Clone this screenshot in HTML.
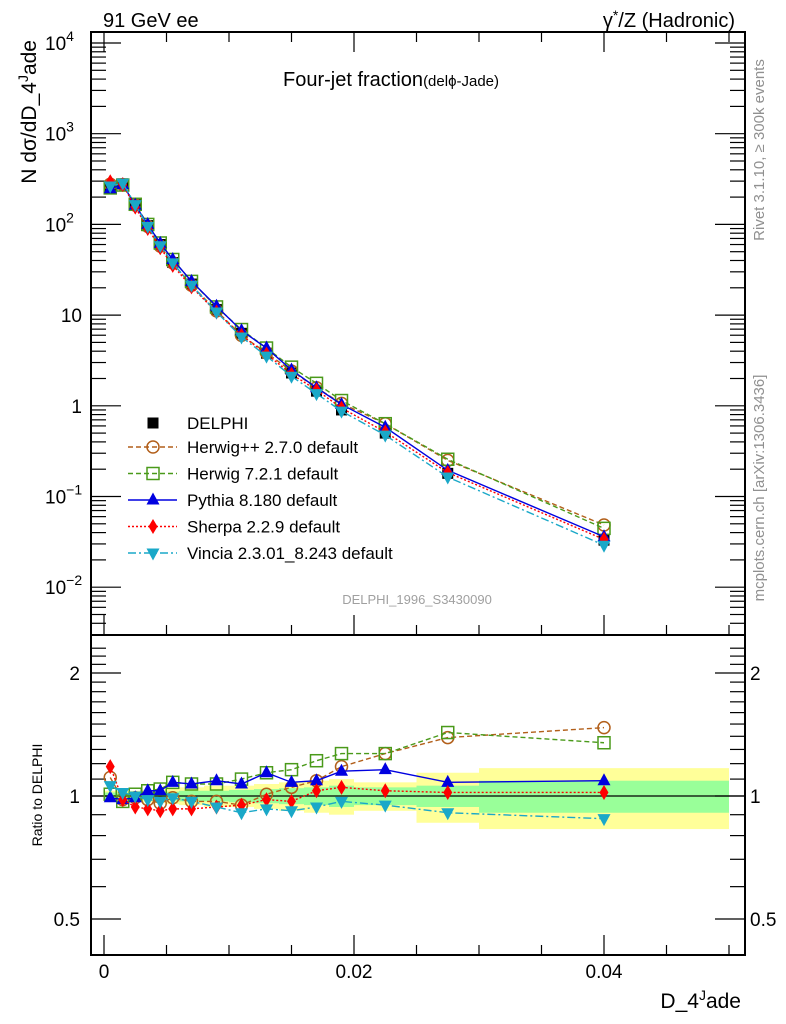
<!DOCTYPE html>
<html><head><meta charset="utf-8"><style>
body{margin:0;background:#fff;}
svg{display:block;font-family:"Liberation Sans","DejaVu Sans",sans-serif;}
</style></head><body>
<svg id="c" width="786" height="1024" viewBox="0 0 786 1024"></svg>
<script>
const binEdges=[0,0.001,0.002,0.003,0.004,0.005,0.006,0.008,0.010,0.012,0.014,0.016,0.018,0.020,0.025,0.030,0.050];
const xCenters=[0.0005,0.0015,0.0025,0.0035,0.0045,0.0055,0.007,0.009,0.011,0.013,0.015,0.017,0.019,0.0225,0.0275,0.04];
const delphi=[250,280,165,97,60,38,22,11.5,6.3,3.8,2.3,1.45,0.9,0.5,0.18,0.033];
const greenHalf=[0.02,0.02,0.02,0.02,0.025,0.025,0.03,0.03,0.035,0.04,0.045,0.05,0.06,0.05,0.06,0.09];
const yellowHalf=[0.03,0.03,0.03,0.035,0.04,0.045,0.05,0.06,0.06,0.07,0.08,0.09,0.1,0.08,0.14,0.17];
const rHerwigpp=[1.11,0.98,0.99,0.98,0.96,0.99,0.97,0.97,0.95,1.01,1.05,1.09,1.18,1.27,1.39,1.47];
const rHerwig7=[1.01,0.97,1.01,1.03,1.04,1.08,1.07,1.07,1.10,1.14,1.16,1.22,1.27,1.27,1.43,1.35];
const rPythia=[0.99,0.98,0.99,1.03,1.03,1.08,1.07,1.09,1.07,1.14,1.08,1.09,1.15,1.16,1.08,1.09];
const rSherpa=[1.18,0.98,0.94,0.93,0.92,0.93,0.93,0.94,0.95,0.98,0.97,1.03,1.05,1.03,1.02,1.02];
const rVincia=[1.06,1.02,1.0,0.98,0.97,0.99,0.97,0.94,0.91,0.93,0.92,0.94,0.97,0.95,0.91,0.88];

const svg=document.getElementById('c');const NS='http://www.w3.org/2000/svg';
function mk(t,a,p){const e=document.createElementNS(NS,t);for(const k in a)e.setAttribute(k,a[k]);(p||svg).appendChild(e);return e;}
const L=91,R=745,T1=32,B1=635,B2=955;
const X=v=>104+v*12500;
const Y1=v=>43+(4-Math.log10(v))*90.7;
const Y2=v=>796-Math.log2(v)*123;

xCenters.forEach((c,i)=>{
  const x0=X(binEdges[i]),x1=X(binEdges[i+1]);
  const yb=mk('rect',{x:x0,y:Y2(1+yellowHalf[i]),width:x1-x0,height:Y2(1-yellowHalf[i])-Y2(1+yellowHalf[i]),fill:'#ffff99'});
  
  const gb=mk('rect',{x:x0,y:Y2(1+greenHalf[i]),width:x1-x0,height:Y2(1-greenHalf[i])-Y2(1+greenHalf[i]),fill:'#99ff99'});
  
});
mk('line',{x1:L,x2:R,y1:796,y2:796,stroke:'#000','stroke-width':1.2});

mk('rect',{x:L,y:T1,width:R-L,height:B1-T1,fill:'none',stroke:'#000','stroke-width':2});
mk('rect',{x:L,y:B1,width:R-L,height:B2-B1,fill:'none',stroke:'#000','stroke-width':2});

for(let k=0;k<=10;k++){const v=k*0.005,x=X(v),big=k%4==0,h=big?20:10;
  [B1,B2].forEach(b=>mk('line',{x1:x,x2:x,y1:b,y2:b-h,stroke:'#000','stroke-width':1.2}));
  mk('line',{x1:x,x2:x,y1:T1,y2:T1+h,stroke:'#000','stroke-width':1.2});
}
[["0",0],["0.02",0.02],["0.04",0.04]].forEach(([t,v])=>{const e=mk('text',{x:X(v),y:978,'font-size':19,'text-anchor':'middle'});e.textContent=t;});
for(let d=-3;d<=4;d++){for(let m=1;m<10;m++){const v=m*Math.pow(10,d),y=Y1(v);if(y<T1||y>B1)continue;const w=m==1?30:15;
  mk('line',{x1:L,x2:L+w,y1:y,y2:y,stroke:'#000','stroke-width':1.2});mk('line',{x1:R,x2:R-w,y1:y,y2:y,stroke:'#000','stroke-width':1.2});}}
const exps=[-2,-1,0,1,2,3,4];
exps.forEach(d=>{const y=Y1(Math.pow(10,d))+7;const e=mk('text',{x:d==0||d==1?82:45,y:y,'font-size':19,'text-anchor':d==0||d==1?'end':'start'});
  
  if(d==0)e.textContent='1';else if(d==1)e.textContent='10';else{e.textContent='10';const s=mk('tspan',{dy:-9,'font-size':14},e);s.textContent=(d<0?'\u2212':'')+Math.abs(d);}
});
[0.5,0.6,0.7,0.8,0.9,1,1.1,1.2,1.3,1.4,1.5,1.6,1.7,1.8,1.9,2,2.1,2.2,2.3].forEach(v=>{const y=Y2(v);if(y<B1||y>B2)return;const big=[0.5,1,2].includes(v),w=big?30:15;
  mk('line',{x1:L,x2:L+w,y1:y,y2:y,stroke:'#000','stroke-width':1.2});mk('line',{x1:R,x2:R-w,y1:y,y2:y,stroke:'#000','stroke-width':1.2});});
[["2",2],["1",1],["0.5",0.5]].forEach(([t,v])=>{const a=mk('text',{x:80,y:Y2(v)+7,'font-size':19,'text-anchor':'end'});a.textContent=t;
  const b=mk('text',{x:750,y:Y2(v)+7,'font-size':19});b.textContent=t;});

const series=[
 {name:'herwigpp',r:rHerwigpp,col:'#b25f1a',dash:'5,3',mark:'circle'},
 {name:'herwig7',r:rHerwig7,col:'#4a9a1a',dash:'5,3',mark:'square'},
 {name:'pythia',r:rPythia,col:'#0000e0',dash:'',mark:'tri'},
 {name:'sherpa',r:rSherpa,col:'#ff0000',dash:'2,2',mark:'diamond'},
 {name:'vincia',r:rVincia,col:'#1aa8c8',dash:'8,3,2,3',mark:'tridown'}];
function marker(type,x,y,col,g){
  if(type=='circle')return mk('circle',{cx:x,cy:y,r:6,fill:'none',stroke:col,'stroke-width':1.5},g);
  if(type=='square')return mk('rect',{x:x-6,y:y-6,width:12,height:12,fill:'none',stroke:col,'stroke-width':1.5},g);
  if(type=='tri')return mk('polygon',{points:`${x},${y-7.5} ${x-6.5},${y+4.5} ${x+6.5},${y+4.5}`,fill:col},g);
  if(type=='tridown')return mk('polygon',{points:`${x},${y+7.5} ${x-6.5},${y-4.5} ${x+6.5},${y-4.5}`,fill:col},g);
  if(type=='diamond')return mk('polygon',{points:`${x},${y-7.5} ${x-4.5},${y} ${x},${y+7.5} ${x+4.5},${y}`,fill:col},g);
  if(type=='sq')return mk('rect',{x:x-5.5,y:y-5.5,width:11,height:11,fill:col},g);
}
const gd=mk('g',{});
delphi.forEach((v,i)=>marker('sq',X(xCenters[i]),Y1(v),'#000',gd));
series.forEach(s=>{
  const g=mk('g',{});
  const pm=xCenters.map((c,i)=>X(c)+','+Y1(delphi[i]*s.r[i])).join(' ');
  mk('polyline',{points:pm,fill:'none',stroke:s.col,'stroke-width':1.4,'stroke-dasharray':s.dash},g);
  xCenters.forEach((c,i)=>marker(s.mark,X(c),Y1(delphi[i]*s.r[i]),s.col,g));
  const g2=mk('g',{});
  const pr=xCenters.map((c,i)=>X(c)+','+Y2(s.r[i])).join(' ');
  mk('polyline',{points:pr,fill:'none',stroke:s.col,'stroke-width':1.4,'stroke-dasharray':s.dash},g2);
  xCenters.forEach((c,i)=>marker(s.mark,X(c),Y2(s.r[i]),s.col,g2));
});

function txt(x,y,s,t,attrs,name){const e=mk('text',Object.assign({x:x,y:y,'font-size':s},attrs||{}));e.textContent=t;return e;}
txt(103,27,20,'91 GeV ee',{},'energy-label');
const pr=txt(735,27,20,'',{'text-anchor':'end'},'process-label');pr.innerHTML='γ<tspan dy="-7" font-size="14">*</tspan><tspan dy="7">/Z (Hadronic)</tspan>';
const ti=txt(283,86,20,'Four-jet fraction',{},'plot-title');const t2=mk('tspan',{'font-size':15},ti);t2.textContent='(delϕ-Jade)';
txt(417,604,13,'DELPHI_1996_S3430090',{fill:'#a0a0a0','text-anchor':'middle'},'analysis-id');
const yl=txt(0,0,21,'',{transform:'translate(36,40) rotate(-90)','text-anchor':'end'},'y-axis-title');yl.innerHTML='N dσ/dD_4<tspan dy="-8" font-size="14">J</tspan><tspan dy="8">ade</tspan>';
txt(0,0,14,'Ratio to DELPHI',{transform:'translate(42,795) rotate(-90)','text-anchor':'middle'},'ratio-axis-title');
const xl=txt(741,1008,21,'',{'text-anchor':'end'},'x-axis-title');xl.innerHTML='D_4<tspan dy="-8" font-size="14">J</tspan><tspan dy="8">ade</tspan>';
txt(0,0,15,'Rivet 3.1.10, ≥ 300k events',{transform:'translate(764,150) rotate(-90)','text-anchor':'middle',fill:'#909090'},'rivet-label');
txt(0,0,15,'mcplots.cern.ch [arXiv:1306.3436]',{transform:'translate(764,488) rotate(-90)','text-anchor':'middle',fill:'#909090'},'mcplots-label');

const lg=mk('g',{});
marker('sq',153,423,'#000',lg);txt(187,429,17,'DELPHI',{},'legend-entry');
const labs=['Herwig++ 2.7.0 default','Herwig 7.2.1 default','Pythia 8.180 default','Sherpa 2.2.9 default','Vincia 2.3.01_8.243 default'];
series.forEach((s,i)=>{const y=447+i*26.5;
  mk('line',{x1:128,x2:177,y1:y,y2:y,stroke:s.col,'stroke-width':1.4,'stroke-dasharray':s.dash},lg);
  marker(s.mark,153,y,s.col,lg);txt(187,y+6,17,labs[i],{},'legend-entry');});
</script>
</body></html>
